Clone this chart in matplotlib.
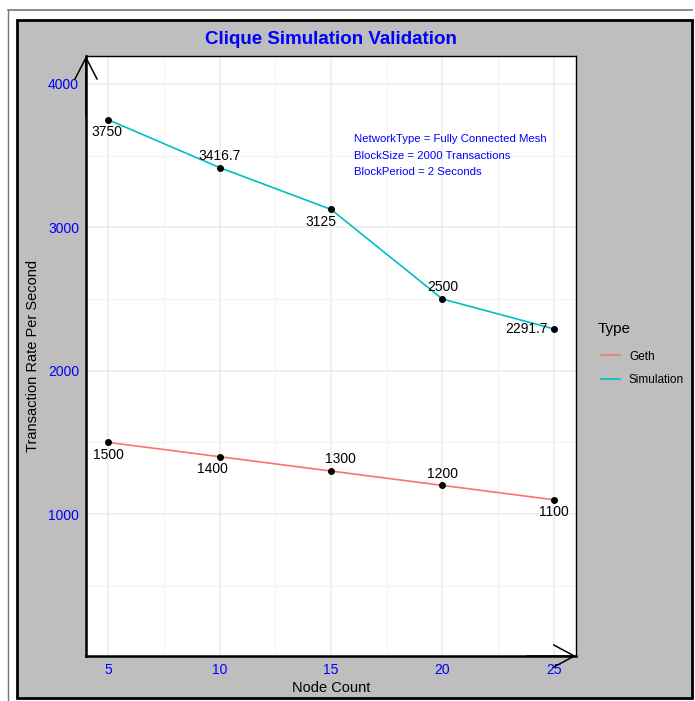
import matplotlib.pyplot as plt
from matplotlib.patches import Rectangle
from matplotlib.lines import Line2D

plt.rcParams['font.family'] = ['Liberation Sans', 'DejaVu Sans']

nodes = [5, 10, 15, 20, 25]
geth = [1500, 1400, 1300, 1200, 1100]
simulation = [3750, 3416.7, 3125, 2500, 2291.7]
geth_labels = ['1500', '1400', '1300', '1200', '1100']
sim_labels = ['3750', '3416.7', '3125', '2500', '2291.7']
y_ticks = [1000, 2000, 3000, 4000]

# label offsets in points (dx, dy)
sim_offsets = [(-1, -9), (0, 8.5), (-7, -9), (0, 8.5), (-19.5, 0)]
geth_offsets = [(0, -9), (-5, -9), (7, 8.5), (0, 8.5), (0, -9)]

W, H = 695, 701
fig = plt.figure(figsize=(W / 100, H / 100), dpi=100)
fig.patch.set_facecolor('white')

def fx(px):
    return px / W

def fy(py):
    return 1 - py / H

# outer thin frame and gray panel
fig.add_artist(Line2D([fx(8), fx(692)], [fy(10), fy(10)], color='#777777', lw=1.2))
fig.add_artist(Line2D([fx(8), fx(8)], [fy(10), fy(701)], color='#777777', lw=1.0))
fig.add_artist(Rectangle((fx(17), fy(698)), fx(692) - fx(17), fy(20) - fy(698),
                         facecolor='#BEBEBE', edgecolor='black', lw=2, zorder=0))

ax = fig.add_axes([fx(86), fy(656), fx(576) - fx(86), fy(56) - fy(656)])
ax.set_facecolor('white')

ax.plot(nodes, geth, color='#F8766D', lw=1.2, label='Geth')
ax.plot(nodes, simulation, color='#00BFC4', lw=1.2, label='Simulation')
ax.scatter(nodes, geth, color='black', s=16, zorder=3)
ax.scatter(nodes, simulation, color='black', s=16, zorder=3)

for x, y, t, off in zip(nodes, simulation, sim_labels, sim_offsets):
    ax.annotate(t, (x, y), xytext=off, textcoords='offset points',
                ha='center', va='center', fontsize=10)
for x, y, t, off in zip(nodes, geth, geth_labels, geth_offsets):
    ax.annotate(t, (x, y), xytext=off, textcoords='offset points',
                ha='center', va='center', fontsize=10)

ax.set_xlim(4.0, 26.0)
ax.set_ylim(10, 4195)
ax.set_xticks(nodes)
ax.set_yticks(y_ticks)
ax.set_xticks([7.5, 12.5, 17.5, 22.5], minor=True)
ax.set_yticks([500, 1500, 2500, 3500], minor=True)
ax.grid(True, which='major', color='#EBEBEB', lw=1.1)
ax.grid(True, which='minor', color='#F2F2F2', lw=0.8)
ax.set_axisbelow(True)
ax.tick_params(which='both', length=0, colors='blue', labelsize=10)
ax.tick_params(axis='x', pad=5)
ax.tick_params(axis='y', pad=5)

for s in ['top', 'right']:
    ax.spines[s].set_linewidth(1.0)
for s in ['left', 'bottom']:
    ax.spines[s].set_linewidth(1.8)

# axis arrows
ax.annotate('', xy=(0, 1), xytext=(0, 0.9), xycoords='axes fraction',
            arrowprops=dict(arrowstyle='->,head_length=1.55,head_width=0.8', lw=1.1,
                            color='black', mutation_scale=10, shrinkA=0, shrinkB=0),
            annotation_clip=False)
ax.annotate('', xy=(1, 0), xytext=(0.9, 0), xycoords='axes fraction',
            arrowprops=dict(arrowstyle='->,head_length=1.5,head_width=0.8', lw=1.1,
                            color='black', mutation_scale=10, shrinkA=0, shrinkB=0),
            annotation_clip=False)

ax.text(0.547, 0.862, 'NetworkType = Fully Connected Mesh', transform=ax.transAxes,
        color='blue', fontsize=8.2, va='center')
ax.text(0.547, 0.834, 'BlockSize = 2000 Transactions', transform=ax.transAxes,
        color='blue', fontsize=8.2, va='center')
ax.text(0.547, 0.807, 'BlockPeriod = 2 Seconds', transform=ax.transAxes,
        color='blue', fontsize=8.2, va='center')

fig.text(fx(331), fy(40), 'Clique Simulation Validation', color='blue',
         fontsize=13.5, fontweight='bold', ha='center', va='center')
fig.text(fx(331), fy(688), 'Node Count', fontsize=10.5, ha='center', va='center')
fig.text(fx(33), fy(356), 'Transaction Rate Per Second', fontsize=10.5,
         rotation=90, ha='center', va='center')

fig.text(fx(598), fy(329), 'Type', fontsize=11, ha='left', va='center')
ax.legend(loc='upper left', bbox_to_anchor=(fx(590), fy(340)),
          bbox_transform=fig.transFigure, frameon=False,
          fontsize=8.5, handlelength=1.6, labelspacing=1.0)

fig.savefig('out.png', dpi=100)
